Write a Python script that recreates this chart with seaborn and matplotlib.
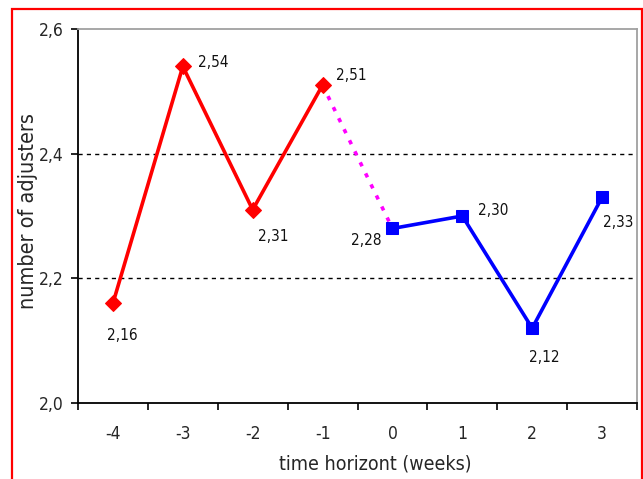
import matplotlib
matplotlib.use("Agg")
import matplotlib.pyplot as plt
import seaborn as sns
import pandas as pd
import numpy as np
from matplotlib.patches import Rectangle
from matplotlib.ticker import FixedLocator, NullFormatter

weeks = [-4, -3, -2, -1, 0, 1, 2, 3]
before_weeks = [-4, -3, -2, -1]
before_vals = [2.16, 2.54, 2.31, 2.51]
after_weeks = [0, 1, 2, 3]
after_vals = [2.28, 2.30, 2.12, 2.33]
yticks = [2.0, 2.2, 2.4, 2.6]
ytick_labels = ["2,0", "2,2", "2,4", "2,6"]
xlabel = "time horizont (weeks)"
ylabel = "number of adjusters"

sns.set_style("white")
plt.rcParams['font.family'] = ['Liberation Sans Narrow', 'DejaVu Sans']
plt.rcParams['font.stretch'] = 'condensed'

fig = plt.figure(figsize=(6.43, 4.79), dpi=100)
ax = fig.add_axes([78/643, 1-403/479, (637-78)/643, (403-29)/479])

pos = {w: i for i, w in enumerate(weeks)}
df_b = pd.DataFrame({"x": [pos[w] for w in before_weeks], "y": before_vals})
df_a = pd.DataFrame({"x": [pos[w] for w in after_weeks], "y": after_vals})
df_c = pd.DataFrame({"x": [pos[before_weeks[-1]], pos[after_weeks[0]]],
                     "y": [before_vals[-1], after_vals[0]]})

for yv in [2.2, 2.4]:
    ax.axhline(yv, color="black", lw=1.0, ls=(0, (3, 3)), zorder=1)

sns.lineplot(data=df_c, x="x", y="y", ax=ax, color="#ff00ff", lw=2.6,
             linestyle=(0, (1.2, 2.2)), zorder=2)
sns.lineplot(data=df_b, x="x", y="y", ax=ax, color="#ff0000", lw=2.6,
             marker="D", markersize=8.5, markeredgecolor="#ff0000", zorder=3)
sns.lineplot(data=df_a, x="x", y="y", ax=ax, color="#0000ff", lw=2.6,
             marker="s", markersize=8.5, markeredgecolor="#0000ff", zorder=3)

# data labels: (dx, dy in points, horizontal alignment)
offsets_b = [(7, -23, "center"), (11, 3, "left"), (4, -19, "left"), (10, 7, "left")]
offsets_a = [(-19, -9, "center"), (11, 4, "left"), (9, -21, "center"), (1, -18, "left")]
for weeks_list, vals, offs in [(before_weeks, before_vals, offsets_b),
                               (after_weeks, after_vals, offsets_a)]:
    for w, v, (dx, dy, ha) in zip(weeks_list, vals, offs):
        ax.annotate(f"{v:.2f}".replace(".", ","), (pos[w], v), xytext=(dx, dy),
                    textcoords="offset points", fontsize=11, ha=ha,
                    va="center", color="#111111")

ax.set_xlim(-0.5, len(weeks) - 0.5)
ax.set_ylim(2.0, 2.6)
ax.set_yticks(yticks)
ax.set_yticklabels(ytick_labels, fontsize=12.5)
ax.set_xticks(range(len(weeks)))
ax.set_xticklabels([str(w) for w in weeks], fontsize=12.5)
ax.xaxis.set_minor_locator(FixedLocator(np.arange(-0.5, len(weeks), 1.0)))
ax.xaxis.set_minor_formatter(NullFormatter())
ax.tick_params(axis="x", which="major", length=0, pad=16)
ax.tick_params(axis="x", which="minor", length=5, width=1.2, color="black", direction="out", bottom=True)
ax.tick_params(axis="y", which="major", length=5, width=1.2, color="black", direction="out", left=True, pad=5)

ax.set_xlabel(xlabel, fontsize=14, labelpad=8)
ax.set_ylabel(ylabel, fontsize=15.5, labelpad=1)
ax.xaxis.label.set_x((375 - 78) / 559)
ax.yaxis.label.set_y((403 - 211) / 374)

for s in ["left", "bottom"]:
    ax.spines[s].set_color("black")
    ax.spines[s].set_linewidth(1.3)
for s in ["top", "right"]:
    ax.spines[s].set_color("#a0a0a0")
    ax.spines[s].set_linewidth(1.3)
ax.set_facecolor("white")

border = Rectangle((12/643, -0.02), (641.5-12)/643, 1-9/479+0.02,
                   transform=fig.transFigure, fill=False, edgecolor="#ff0000",
                   lw=1.6, clip_on=False)
fig.patches.append(border)

fig.savefig("out.png", dpi=100)
